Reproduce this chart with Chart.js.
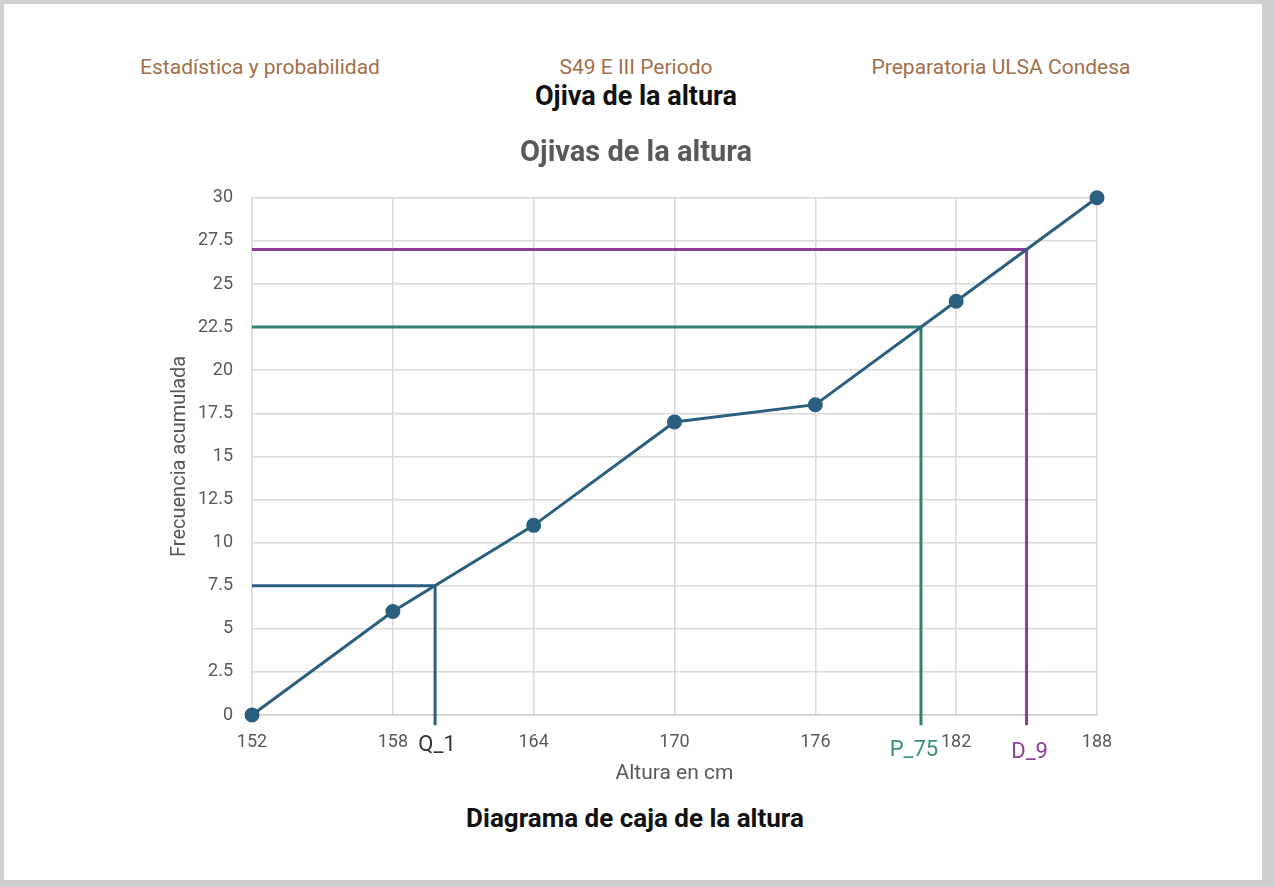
<!DOCTYPE html>
<html lang="es">
<head>
<meta charset="utf-8">
<title>Ojiva de la altura</title>
<script src="https://cdn.jsdelivr.net/npm/chart.js@4.4.1/dist/chart.umd.min.js"></script>
<style>
  html, body { margin: 0; padding: 0; }
  body { width: 1275px; height: 887px; background: #cfcfcf; position: relative; overflow: hidden; font-family: Roboto, 'Liberation Sans', sans-serif; }
  #hoja { position: absolute; left: 4px; top: 4px; width: 1258px; height: 876px; background: #fff; }
  .txt { position: absolute; transform: translate(-50%, -50%); white-space: nowrap; }
  .cafe { color: #a2704a; font-size: 21px; }
  .negro { color: #111; font-weight: bold; }
  #grafica { position: absolute; left: 0; top: 0; width: 1275px; height: 887px; }
</style>
</head>
<body>
<div id="hoja"></div>
<div class="txt cafe" style="left:260px; top:67px;">Estadística y probabilidad</div>
<div class="txt cafe" style="left:636px; top:67px;">S49 E III Periodo</div>
<div class="txt cafe" style="left:1001px; top:67px;">Preparatoria ULSA Condesa</div>
<div class="txt negro" style="left:636px; top:96px; font-size:27px;">Ojiva de la altura</div>
<div class="txt negro" style="left:635px; top:818px; font-size:26px;">Diagrama de caja de la altura</div>
<div id="grafica"><canvas id="ojiva"></canvas></div>

<script>
// datos de la ojiva
const alturas = [152, 158, 164, 170, 176, 182, 188];
const frecAcumulada = [0, 6, 11, 17, 18, 24, 30];

const medidas = ['Q_1', 'P_75', 'D_9'];
const medidaAltura = [159.8, 180.5, 185];
const medidaFrec = [7.5, 22.5, 27];

const coloresMedida = ['#2b5f80', '#2f8272', '#8e3c98'];
const coloresTexto = ['#333333', '#3a8f80', '#8b3f96'];
const desplazX = [2, -7, 3];
const desplazY = [30, 35, 37];
const bajoEje = -0.6; // las guias verticales pasan un poco debajo del eje

const gris = '#595959';
const rejilla = '#dadada';

const guias = medidas.map((nombre, i) => ({
    label: nombre,
    data: [
        { x: alturas[0], y: medidaFrec[i] },
        { x: medidaAltura[i], y: medidaFrec[i] },
        { x: medidaAltura[i], y: bajoEje }
    ],
    showLine: true,
    borderColor: coloresMedida[i],
    borderWidth: 3,
    pointRadius: 0,
    clip: false
}));

const etiquetasMedidas = {
    id: 'etiquetasMedidas',
    afterDatasetsDraw(chart) {
        const { ctx, chartArea, scales } = chart;
        ctx.save();
        ctx.font = '22px Roboto, sans-serif';
        ctx.textAlign = 'center';
        ctx.textBaseline = 'middle';
        medidas.forEach((m, i) => {
            const x = scales.x.getPixelForValue(medidaAltura[i]);
            ctx.fillStyle = coloresTexto[i];
            ctx.fillText(m, x + desplazX[i], chartArea.bottom + desplazY[i]);
        });
        ctx.restore();
    }
};

const ctx = document.getElementById('ojiva');
let chart = new Chart(ctx, {
    type: 'scatter',
    data: {
        datasets: [{
            label: 'Ojiva',
            data: alturas.map((a, i) => ({ x: a, y: frecAcumulada[i] })),
            showLine: true,
            borderColor: '#2b5f80',
            backgroundColor: '#2b5f80',
            borderWidth: 3,
            pointRadius: 6,
            clip: false
        }].concat(guias)
    },
    options: {
        responsive: true,
        maintainAspectRatio: false,
        animation: false,
        layout: { padding: { left: 175, right: 178, top: 136, bottom: 92 } },
        plugins: {
            legend: { display: false },
            tooltip: { enabled: false },
            title: {
                display: true,
                text: 'Ojivas de la altura',
                color: gris,
                font: { family: 'Roboto', size: 29, weight: 'bold', lineHeight: 1.2 },
                padding: { top: 0, bottom: 27 }
            }
        },
        scales: {
            x: {
                type: 'linear',
                min: 152,
                max: 188,
                ticks: { stepSize: 6, color: gris, padding: 17, font: { family: 'Roboto', size: 18 } },
                grid: { color: rejilla, lineWidth: 1.5, drawTicks: false },
                border: { color: '#cfcfcf', width: 1.5 },
                title: {
                    display: true,
                    text: 'Altura en cm',
                    color: gris,
                    font: { family: 'Roboto', size: 21 },
                    padding: { top: 0, bottom: 9 }
                },
                afterFit: (scale) => { scale.height = 80; }
            },
            y: {
                min: 0,
                max: 30,
                ticks: { stepSize: 2.5, color: gris, padding: 19, font: { family: 'Roboto', size: 18 } },
                grid: { color: rejilla, lineWidth: 1.5, drawTicks: false },
                border: { color: rejilla, width: 1.5 },
                title: {
                    display: true,
                    text: 'Frecuencia acumulada',
                    color: gris,
                    font: { family: 'Roboto', size: 20 },
                    padding: { top: -7, bottom: 0 }
                },
                afterFit: (scale) => { scale.width = 77; }
            }
        }
    },
    plugins: [etiquetasMedidas]
});
</script>
</body>
</html>
